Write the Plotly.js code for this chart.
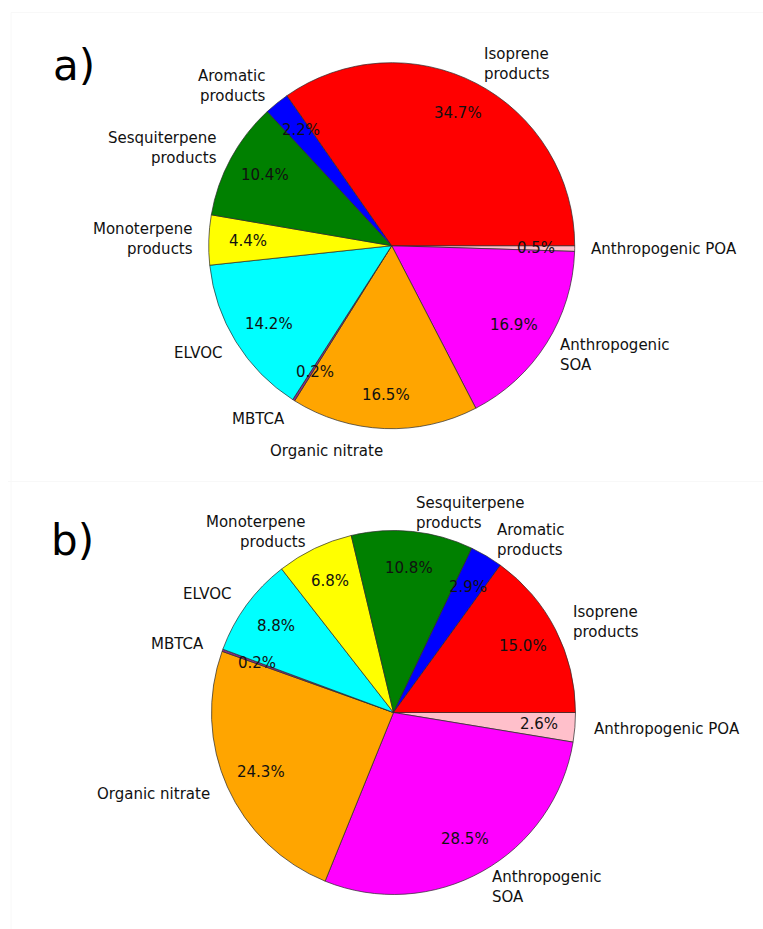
<!DOCTYPE html>
<html>
<head>
<meta charset="utf-8">
<script src="https://cdn.plot.ly/plotly-3.0.1.min.js"></script>
<style>
  html, body { margin: 0; padding: 0; background: #ffffff; }
  #chart { width: 763px; height: 929px; }
</style>
</head>
<body>
<div id="chart"></div>
<script>
// ---------------- data ----------------
const sliceNames = ['Isoprene\nproducts', 'Aromatic\nproducts', 'Sesquiterpene\nproducts',
  'Monoterpene\nproducts', 'ELVOC', 'MBTCA', 'Organic nitrate', 'Anthropogenic\nSOA',
  'Anthropogenic POA'];
const valuesA = [34.7, 2.2, 10.4, 4.4, 14.2, 0.2, 16.5, 16.9, 0.5];
const valuesB = [15.0, 2.9, 10.8, 6.8, 8.8, 0.2, 24.3, 28.5, 2.6];
const sliceColors = ['#ff0000', '#0000ff', '#008000', '#ffff00', '#00ffff', '#8a2b8a',
  '#ffa500', '#ff00ff', '#ffc0cb'];
const panelLabels = ['a)', 'b)'];

// ---------------- layout geometry ----------------
const W = 763, H = 929;
const FONT = 'DejaVu Sans, Liberation Sans, sans-serif';
const geomA = { cx: 391.7, cy: 245.7, r: 183, rx: 180, ry: 186.5, lx: 52, ly: 66 };
const geomB = { cx: 393.5, cy: 712.5, r: 182, rx: 182, ry: 182, lx: 50, ly: 540 };

function px2paperX(x) { return x / W; }
function px2paperY(y) { return 1 - y / H; }

function buildPie(values, g, panelLabel) {
  const total = values.reduce((a, b) => a + b, 0);
  // matplotlib style: first slice starts at 3 o'clock and goes counterclockwise.
  // Equivalent in Plotly: reversed order, clockwise from 3 o'clock.
  const trace = {
    type: 'pie',
    values: values.slice().reverse(),
    labels: sliceNames.map(s => s.replace('\n', ' ')).reverse(),
    marker: { colors: sliceColors.slice().reverse(), line: { color: '#2a2a2a', width: 0.7 } },
    direction: 'clockwise',
    rotation: 90,
    sort: false,
    textinfo: 'none',
    hoverinfo: 'label+percent',
    showlegend: false,
    domain: {
      x: [px2paperX(g.cx - g.r), px2paperX(g.cx + g.r)],
      y: [px2paperY(g.cy + g.r), px2paperY(g.cy - g.r)]
    }
  };
  const ann = [];
  let cum = 0;
  values.forEach((v, i) => {
    const mid = (cum + v / 2) / total * 2 * Math.PI;
    cum += v;
    const c = Math.cos(mid), s = Math.sin(mid);
    // percentage text at 0.8 radius
    ann.push({
      xref: 'paper', yref: 'paper',
      x: px2paperX(g.cx + 0.8 * g.rx * c), y: px2paperY(g.cy - 0.8 * g.ry * s),
      xanchor: 'center', yanchor: 'middle', showarrow: false, borderpad: 0,
      text: (100 * v / total).toFixed(1) + '%',
      font: { family: FONT, size: 15, color: '#111' }
    });
    // category label at 1.1 radius
    const left = c > 0;
    ann.push({
      xref: 'paper', yref: 'paper',
      x: px2paperX(g.cx + 1.1 * g.rx * c), y: px2paperY(g.cy - 1.1 * g.ry * s),
      xanchor: left ? 'left' : 'right', yanchor: 'middle', align: left ? 'left' : 'right',
      showarrow: false, borderpad: 0,
      text: sliceNames[i].replace('\n', '<br>'),
      font: { family: FONT, size: 15, color: '#111' }
    });
  });
  ann.push({
    xref: 'paper', yref: 'paper',
    x: px2paperX(g.lx), y: px2paperY(g.ly),
    xanchor: 'left', yanchor: 'middle', showarrow: false, borderpad: 0,
    text: panelLabel,
    font: { family: FONT, size: 42, color: '#000' }
  });
  return { trace, ann };
}

const pA = buildPie(valuesA, geomA, panelLabels[0]);
const pB = buildPie(valuesB, geomB, panelLabels[1]);

const faint = { color: '#f8f8f8', width: 1 };
const layout = {
  width: W, height: H,
  margin: { l: 0, r: 0, t: 0, b: 0, pad: 0 },
  paper_bgcolor: '#ffffff',
  plot_bgcolor: '#ffffff',
  font: { family: FONT, size: 15, color: '#111' },
  showlegend: false,
  annotations: pA.ann.concat(pB.ann),
  shapes: [
    { type: 'line', xref: 'paper', yref: 'paper', x0: px2paperX(11), x1: 1, y0: px2paperY(12.5), y1: px2paperY(12.5), line: faint },
    { type: 'line', xref: 'paper', yref: 'paper', x0: px2paperX(11), x1: px2paperX(11), y0: px2paperY(12.5), y1: px2paperY(481.5), line: faint },
    { type: 'line', xref: 'paper', yref: 'paper', x0: px2paperX(8), x1: 1, y0: px2paperY(481.5), y1: px2paperY(481.5), line: faint },
    { type: 'line', xref: 'paper', yref: 'paper', x0: px2paperX(11), x1: px2paperX(11), y0: px2paperY(481.5), y1: 0, line: faint }
  ]
};

Plotly.newPlot('chart', [pA.trace, pB.trace], layout, { displayModeBar: false, staticPlot: true });
</script>
</body>
</html>
